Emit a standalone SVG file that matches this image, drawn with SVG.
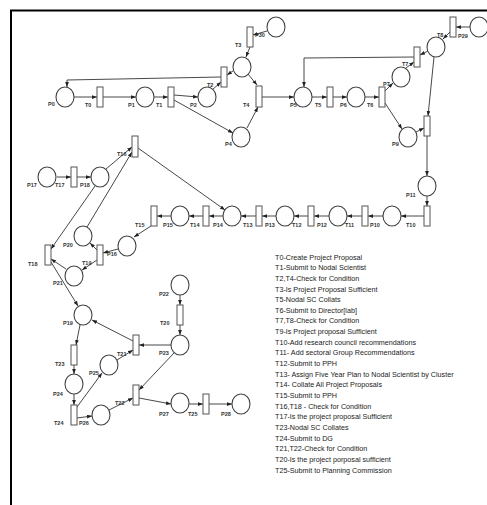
<svg xmlns="http://www.w3.org/2000/svg" width="487" height="505" viewBox="0 0 487 505">
<defs>
<marker id="ah" viewBox="0 0 8 6" refX="8" refY="3" markerWidth="5" markerHeight="4" markerUnits="userSpaceOnUse" orient="auto"><path d="M0,0 L8,3 L0,6 z" fill="#222"/></marker>
</defs>
<style>
.p{fill:#fff;stroke:#444;stroke-width:1.1}
.t{fill:#fff;stroke:#555;stroke-width:1}
.a{fill:none;stroke:#333;stroke-width:0.9;marker-end:url(#ah)}
.lb{font-family:"Liberation Sans",Arial,sans-serif;font-size:5.5px;font-weight:bold;fill:#333}
.lg{font-family:"Liberation Sans",Arial,sans-serif;font-size:7.2px;fill:#222}
</style>
<rect width="487" height="505" fill="#fff"/>
<path d="M11,505 V10.5 H487" fill="none" stroke="#000" stroke-width="2"/>

<g id="arcs">
<path class="a" d="M74,97 L97,97"/>
<path class="a" d="M103,97 L136,97"/>
<path class="a" d="M154,97 L168,97"/>
<path class="a" d="M174,95 L198,97"/>
<path class="a" d="M174,100 L233,133"/>
<path class="a" d="M212,90 L221,82"/>
<path class="a" d="M221,77 L67,80 L67,87"/>
<path class="a" d="M267,31 L253,35"/>
<path class="a" d="M250,47 L246,57"/>
<path class="a" d="M233,71 L227,75"/>
<path class="a" d="M248,74 L257,85"/>
<path class="a" d="M247,128 L258,107"/>
<path class="a" d="M262,97 L294,97"/>
<path class="a" d="M312,97 L327,97"/>
<path class="a" d="M332,97 L347,97"/>
<path class="a" d="M365,97 L379,97"/>
<path class="a" d="M385,91 L393,83"/>
<path class="a" d="M385,103 L402,129"/>
<path class="a" d="M406,68 L414,62"/>
<path class="a" d="M414,57 L304,58 L304,87"/>
<path class="a" d="M470,27 L456,27"/>
<path class="a" d="M450,32 L443,39"/>
<path class="a" d="M428,51 L420,55"/>
<path class="a" d="M434,57 L428,116"/>
<path class="a" d="M416,132 L424,128"/>
<path class="a" d="M427,136 L427,176"/>
<path class="a" d="M427,196 L427,206"/>
<path class="a" d="M424,216 L401,216"/>
<path class="a" d="M383,216 L368,216"/>
<path class="a" d="M362,216 L347,216"/>
<path class="a" d="M329,216 L314,216"/>
<path class="a" d="M308,216 L294,216"/>
<path class="a" d="M276,216 L262,216"/>
<path class="a" d="M256,216 L241,216"/>
<path class="a" d="M223,216 L209,216"/>
<path class="a" d="M203,216 L189,216"/>
<path class="a" d="M171,216 L157,216"/>
<path class="a" d="M151,226 L134,237"/>
<path class="a" d="M138,148 L225,210"/>
<path class="a" d="M57,177 L71,177"/>
<path class="a" d="M77,177 L91,177"/>
<path class="a" d="M106,169 L132,147"/>
<path class="a" d="M87,227 L132,152"/>
<path class="a" d="M95,186 L51,249"/>
<path class="a" d="M51,262 L78,306"/>
<path class="a" d="M66,269 L51,259"/>
<path class="a" d="M118,249 L103,253"/>
<path class="a" d="M97,250 L90,243"/>
<path class="a" d="M97,260 L82,270"/>
<path class="a" d="M80,325 L76,345"/>
<path class="a" d="M74,365 L74,374"/>
<path class="a" d="M74,394 L74,405"/>
<path class="a" d="M77,418 L92,416"/>
<path class="a" d="M77,407 L102,373"/>
<path class="a" d="M117,360 L133,350"/>
<path class="a" d="M133,341 L92,320"/>
<path class="a" d="M171,345 L139,345"/>
<path class="a" d="M180,295 L180,305"/>
<path class="a" d="M180,325 L180,335"/>
<path class="a" d="M174,353 L139,390"/>
<path class="a" d="M109,410 L133,398"/>
<path class="a" d="M139,398 L171,404"/>
<path class="a" d="M189,404 L203,404"/>
<path class="a" d="M209,404 L232,404"/>
</g>

<g id="P0"><ellipse class="p" cx="65" cy="97" rx="9" ry="10"/><text class="lb" x="48" y="106">P0</text></g>
<g id="T0"><rect class="t" x="97" y="87" width="6" height="20"/><text class="lb" x="85" y="107">T0</text></g>
<g id="P1"><ellipse class="p" cx="145" cy="97" rx="9" ry="10"/><text class="lb" x="128" y="107">P1</text></g>
<g id="T1"><rect class="t" x="168" y="87" width="6" height="20"/><text class="lb" x="156" y="107">T1</text></g>
<g id="P2"><ellipse class="p" cx="207" cy="97" rx="9" ry="10"/><text class="lb" x="190" y="107">P2</text></g>
<g id="T2"><rect class="t" x="221" y="67" width="6" height="20"/><text class="lb" x="207" y="87">T2</text></g>
<g id="P3"><ellipse class="p" cx="242" cy="67" rx="9" ry="10"/></g>
<g id="T3"><rect class="t" x="247" y="27" width="6" height="20"/><text class="lb" x="235" y="47">T3</text></g>
<g id="P30"><ellipse class="p" cx="276" cy="27" rx="9" ry="10"/><text class="lb" x="255" y="37">P30</text></g>
<g id="T4"><rect class="t" x="256" y="86" width="6" height="21"/><text class="lb" x="243" y="107">T4</text></g>
<g id="P4"><ellipse class="p" cx="241" cy="137" rx="9" ry="10"/><text class="lb" x="225" y="146">P4</text></g>
<g id="P5"><ellipse class="p" cx="303" cy="97" rx="9" ry="10"/><text class="lb" x="290" y="107">P5</text></g>
<g id="T5"><rect class="t" x="327" y="87" width="6" height="20"/><text class="lb" x="315" y="107">T5</text></g>
<g id="P6"><ellipse class="p" cx="356" cy="97" rx="9" ry="10"/><text class="lb" x="340" y="107">P6</text></g>
<g id="T6"><rect class="t" x="379" y="87" width="6" height="20"/><text class="lb" x="367" y="107">T6</text></g>
<g id="P7"><ellipse class="p" cx="401" cy="77" rx="9" ry="10"/><text class="lb" x="383" y="86">P7</text></g>
<g id="T7"><rect class="t" x="414" y="47" width="6" height="20"/><text class="lb" x="402" y="66">T7</text></g>
<g id="P8"><ellipse class="p" cx="436" cy="47" rx="9" ry="10"/><text class="lb" x="437" y="37">T8</text></g>
<g id="T8"><rect class="t" x="450" y="17" width="6" height="20"/></g>
<g id="P29"><ellipse class="p" cx="479" cy="27" rx="9" ry="10"/><text class="lb" x="458" y="38">P29</text></g>
<g id="T9"><rect class="t" x="424" y="116" width="6" height="20"/></g>
<g id="P9"><ellipse class="p" cx="408" cy="137" rx="9" ry="10"/><text class="lb" x="392" y="146">P9</text></g>
<g id="P11"><ellipse class="p" cx="427" cy="186" rx="9" ry="10"/><text class="lb" x="406" y="197">P11</text></g>
<g id="T10"><rect class="t" x="424" y="206" width="6" height="20"/><text class="lb" x="406" y="227">T10</text></g>
<g id="P10"><ellipse class="p" cx="392" cy="216" rx="9" ry="10"/><text class="lb" x="370" y="227">P10</text></g>
<g id="T11"><rect class="t" x="362" y="206" width="6" height="20"/><text class="lb" x="345" y="227">T11</text></g>
<g id="P12"><ellipse class="p" cx="338" cy="216" rx="9" ry="10"/><text class="lb" x="317" y="227">P12</text></g>
<g id="T12"><rect class="t" x="308" y="206" width="6" height="20"/><text class="lb" x="292" y="227">T12</text></g>
<g id="P13"><ellipse class="p" cx="285" cy="216" rx="9" ry="10"/><text class="lb" x="265" y="227">P13</text></g>
<g id="T13"><rect class="t" x="256" y="206" width="6" height="20"/><text class="lb" x="243" y="227">T13</text></g>
<g id="P14"><ellipse class="p" cx="232" cy="216" rx="9" ry="10"/><text class="lb" x="213" y="227">P14</text></g>
<g id="T14"><rect class="t" x="203" y="206" width="6" height="20"/><text class="lb" x="190" y="227">T14</text></g>
<g id="P15"><ellipse class="p" cx="180" cy="216" rx="9" ry="10"/><text class="lb" x="163" y="227">P15</text></g>
<g id="T15"><rect class="t" x="151" y="206" width="6" height="20"/><text class="lb" x="135" y="227">T15</text></g>
<g id="T16"><rect class="t" x="132" y="136" width="6" height="21"/><text class="lb" x="117" y="156">T16</text></g>
<g id="P17"><ellipse class="p" cx="47" cy="177" rx="9" ry="10"/><text class="lb" x="27" y="187">P17</text></g>
<g id="T17"><rect class="t" x="71" y="167" width="6" height="20"/><text class="lb" x="55" y="187">T17</text></g>
<g id="P18"><ellipse class="p" cx="100" cy="177" rx="9" ry="10"/><text class="lb" x="80" y="187">P18</text></g>
<g id="P20"><ellipse class="p" cx="83" cy="236" rx="9" ry="10"/><text class="lb" x="63" y="247">P20</text></g>
<g id="T18"><rect class="t" x="45" y="245" width="6" height="20"/><text class="lb" x="28" y="266">T18</text></g>
<g id="T19"><rect class="t" x="97" y="245" width="6" height="20"/><text class="lb" x="82" y="265">T19</text></g>
<g id="P16"><ellipse class="p" cx="127" cy="246" rx="9" ry="10"/><text class="lb" x="107" y="256">P16</text></g>
<g id="P21"><ellipse class="p" cx="74" cy="276" rx="9" ry="10"/><text class="lb" x="53" y="285">P21</text></g>
<g id="P19"><ellipse class="p" cx="83" cy="315" rx="9" ry="10"/><text class="lb" x="63" y="325">P19</text></g>
<g id="P22"><ellipse class="p" cx="180" cy="285" rx="9" ry="10"/><text class="lb" x="159" y="296">P22</text></g>
<g id="T20"><rect class="t" x="177" y="305" width="6" height="20"/><text class="lb" x="160" y="325">T20</text></g>
<g id="P23"><ellipse class="p" cx="180" cy="345" rx="9" ry="10"/><text class="lb" x="159" y="355">P23</text></g>
<g id="T21"><rect class="t" x="133" y="335" width="6" height="20"/><text class="lb" x="117" y="356">T21</text></g>
<g id="T23"><rect class="t" x="71" y="345" width="6" height="20"/><text class="lb" x="55" y="366">T23</text></g>
<g id="P25"><ellipse class="p" cx="109" cy="365" rx="9" ry="10"/><text class="lb" x="89" y="375">P25</text></g>
<g id="P24"><ellipse class="p" cx="74" cy="384" rx="9" ry="10"/><text class="lb" x="53" y="396">P24</text></g>
<g id="T24"><rect class="t" x="71" y="405" width="6" height="20"/><text class="lb" x="54" y="425">T24</text></g>
<g id="P26"><ellipse class="p" cx="101" cy="415" rx="9" ry="10"/><text class="lb" x="79" y="425">P26</text></g>
<g id="T22"><rect class="t" x="133" y="385" width="6" height="20"/><text class="lb" x="115" y="405">T22</text></g>
<g id="P27"><ellipse class="p" cx="180" cy="403" rx="9" ry="10"/><text class="lb" x="159" y="416">P27</text></g>
<g id="T25"><rect class="t" x="203" y="394" width="6" height="20"/><text class="lb" x="188" y="416">T25</text></g>
<g id="P28"><ellipse class="p" cx="241" cy="404" rx="9" ry="10"/><text class="lb" x="221" y="416">P28</text></g>

<g id="legend">
<text class="lg" x="275" y="259.5">T0-Create Project Proposal</text>
<text class="lg" x="275" y="270.2">T1-Submit to Nodal Scientist</text>
<text class="lg" x="275" y="280.8">T2,T4-Check for Condition</text>
<text class="lg" x="275" y="291.5">T3-Is Project Proposal Sufficient</text>
<text class="lg" x="275" y="302.1">T5-Nodal SC Collats</text>
<text class="lg" x="275" y="312.8">T6-Submit to Director[lab]</text>
<text class="lg" x="275" y="323.4">T7,T8-Check for Condition</text>
<text class="lg" x="275" y="334.1">T9-Is Project proposal Sufficient</text>
<text class="lg" x="275" y="344.7">T10-Add research council  recommendations</text>
<text class="lg" x="275" y="355.4">T11- Add sectoral Group Recommendations</text>
<text class="lg" x="275" y="366">T12-Submit to PPH</text>
<text class="lg" x="275" y="376.7">T13- Assign Five Year Plan to Nodal Scientist by Cluster</text>
<text class="lg" x="275" y="387.3">T14- Collate All Project Proposals</text>
<text class="lg" x="275" y="398">T15-Submit to PPH</text>
<text class="lg" x="275" y="408.6">T16,T18 - Check for Condition</text>
<text class="lg" x="275" y="419.3">T17-Is the project proposal Sufficient</text>
<text class="lg" x="275" y="429.9">T23-Nodal  SC Collates</text>
<text class="lg" x="275" y="440.6">T24-Submit to DG</text>
<text class="lg" x="275" y="451.2">T21,T22-Check for Condition</text>
<text class="lg" x="275" y="461.9">T20-Is the project porposal sufficient</text>
<text class="lg" x="275" y="472.5">T25-Submit to Planning Commission</text>
</g>
</svg>
